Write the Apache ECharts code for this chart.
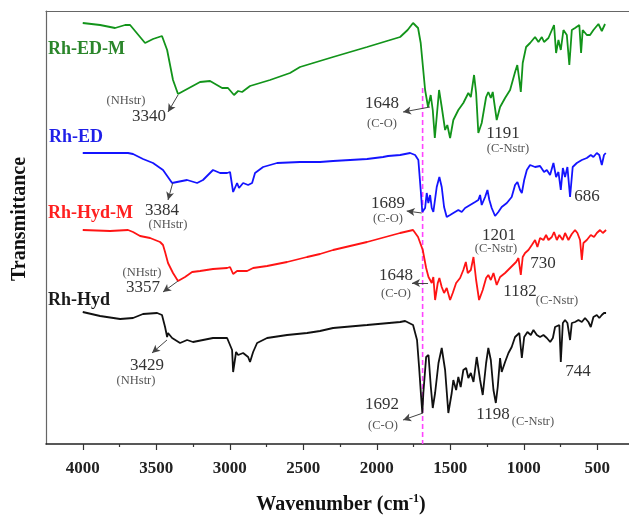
<!DOCTYPE html>
<html>
<head>
<meta charset="utf-8">
<script src="https://cdn.jsdelivr.net/npm/echarts@6/dist/echarts.min.js"></script>
<style>
  html, body { margin: 0; padding: 0; background: #fff; }
  #chart { width: 629px; height: 518px; }
</style>
</head>
<body>
<div id="chart"></div>
<script>
// FTIR spectra: [wavenumber (cm-1), transmittance (a.u., stacked)]
const rhEdM = [[4000,421],[3882,419],[3780,416],[3712,419],[3678,419],[3576,401],[3522,405],[3461,408],[3426,394],[3386,364],[3352,350],[3202,362],[3134,363],[3052,356],[3012,356],[2971,349],[2943,353],[2916,352],[2862,358],[2726,364],[2590,371],[2522,377],[2297,387],[2066,397],[1841,407],[1790,414],[1753,421],[1719,416],[1701,401],[1671,354],[1651,337],[1633,349],[1619,334],[1605,306],[1576,354],[1558,337],[1535,314],[1520,319],[1501,306],[1479,324],[1445,334],[1411,341],[1377,351],[1360,347],[1338,369],[1324,351],[1309,311],[1286,321],[1256,347],[1241,352],[1224,346],[1211,352],[1184,324],[1161,337],[1127,346],[1093,354],[1059,372],[1044,379],[1030,364],[1020,352],[1007,381],[984,397],[957,401],[923,407],[900,402],[877,407],[862,402],[832,406],[794,419],[780,391],[764,404],[748,394],[730,414],[707,409],[690,379],[673,414],[651,416],[639,414],[622,419],[610,391],[599,414],[571,409],[549,409],[526,414],[492,420],[469,413],[447,420]];

const rhEd = [[4000,291],[3692,291],[3658,290],[3590,285],[3522,281],[3454,274],[3392,261],[3359,262],[3290,264],[3222,261],[3182,264],[3114,274],[3066,271],[3018,271],[2998,272],[2977,252],[2950,261],[2937,256],[2909,261],[2875,259],[2848,261],[2828,271],[2773,277],[2678,281],[2522,282],[2386,282],[2297,283],[2066,285],[1957,287],[1923,288],[1841,289],[1773,291],[1739,289],[1717,284],[1701,254],[1690,232],[1671,236],[1660,251],[1649,241],[1637,249],[1626,236],[1615,232],[1592,257],[1574,267],[1558,257],[1542,237],[1524,227],[1501,229],[1479,231],[1445,234],[1422,232],[1399,236],[1365,239],[1331,242],[1309,244],[1297,249],[1286,239],[1263,247],[1247,254],[1234,244],[1218,236],[1195,228],[1173,232],[1150,237],[1115,241],[1082,247],[1059,259],[1043,262],[1025,254],[1013,251],[997,264],[979,274],[957,279],[923,277],[889,278],[862,272],[843,274],[821,269],[798,281],[780,267],[764,272],[748,254],[734,276],[719,267],[703,277],[685,247],[667,277],[639,281],[605,284],[571,286],[544,289],[526,287],[503,291],[486,289],[469,279],[454,289],[442,291]];

const rhHydM = [[4000,214],[3814,213],[3692,214],[3658,212],[3610,208],[3542,206],[3474,202],[3454,199],[3440,192],[3420,181],[3386,171],[3352,163],[3304,167],[3256,172],[3202,173],[3114,175],[3018,176],[2998,177],[2977,170],[2950,173],[2882,173],[2841,176],[2746,178],[2610,182],[2474,187],[2386,190],[2297,194],[2066,202],[1841,211],[1753,214],[1719,207],[1687,194],[1664,176],[1648,167],[1637,167],[1626,161],[1615,167],[1603,144],[1585,161],[1574,166],[1558,157],[1542,151],[1524,156],[1501,144],[1483,151],[1460,161],[1433,166],[1411,174],[1394,182],[1381,171],[1360,174],[1342,187],[1324,164],[1304,144],[1279,154],[1256,166],[1241,169],[1224,164],[1206,171],[1184,159],[1161,167],[1127,171],[1093,176],[1052,182],[1036,186],[1020,169],[1007,187],[991,191],[968,194],[945,199],[923,204],[907,197],[889,206],[866,204],[848,209],[832,204],[809,207],[794,212],[775,204],[758,209],[735,204],[719,211],[696,204],[673,210],[651,214],[635,211],[617,204],[605,184],[594,201],[571,204],[544,209],[522,207],[503,211],[481,214],[462,211],[440,214]];

const rhHyd = [[4000,132],[3882,128],[3746,125],[3658,126],[3590,130],[3494,131],[3461,129],[3440,117],[3426,107],[3420,111],[3392,106],[3338,101],[3290,104],[3250,102],[3182,104],[3114,106],[3018,106],[2984,94],[2977,72],[2957,92],[2943,89],[2909,91],[2875,87],[2862,82],[2841,92],[2814,101],[2746,106],[2610,109],[2474,111],[2386,113],[2297,116],[2066,119],[1841,122],[1807,123],[1753,119],[1726,104],[1712,77],[1698,47],[1690,31],[1683,51],[1664,87],[1648,89],[1632,57],[1619,36],[1603,51],[1580,81],[1558,96],[1535,74],[1513,31],[1490,51],[1479,64],[1460,54],[1445,67],[1429,57],[1411,74],[1392,76],[1377,66],[1360,71],[1342,62],[1320,87],[1297,64],[1279,49],[1256,81],[1241,96],[1224,84],[1206,54],[1190,41],[1177,57],[1161,86],[1150,72],[1127,82],[1104,91],[1082,97],[1059,107],[1030,111],[1013,86],[997,107],[975,112],[952,109],[934,114],[911,109],[889,107],[866,109],[843,106],[820,102],[802,106],[787,117],[758,119],[748,82],[734,121],[719,124],[703,121],[685,104],[673,121],[651,122],[628,124],[605,122],[583,126],[560,122],[544,117],[526,127],[503,129],[486,126],[469,129],[454,131],[440,131]];

// C=O reference wavenumber marked with a dashed guide
const guideWn = 1688;
const guideSpan = [356, 0];

// x-axis tick values
const majorTicks = [500, 1000, 1500, 2000, 2500, 3000, 3500, 4000];
const minorTicks = [750, 1250, 1750, 2250, 2750, 3250, 3750];

// pointer arrows: [from point on the curve, to the label]
const arrowsEdM = [[[3352,349],[3420,332]], [[1638,337],[1821,332]]];
const arrowsEd = [[[3388,261],[3420,244]], [[1694,231],[1796,233]]];
const arrowsHydM = [[[3352,163],[3454,152]], [[1651,161],[1760,161]]];
const arrowsHyd = [[[3427,104],[3529,91]], [[1685,31],[1821,24]]];

// peak annotations: text, kind (n = wavenumber, s = assignment)
const notes = [
  ['(NHstr)',126,101,'s'],['3340',149,117,'n'],['1648',382,104,'n'],['(C-O)',382,124,'s'],['1191',503,134,'n'],['(C-Nstr)',508,149,'s'],
  ['3384',162,211,'n'],['(NHstr)',168,225,'s'],['1689',388,204,'n'],['(C-O)',388,219,'s'],['686',587,197,'n'],['1201',499,236,'n'],['(C-Nstr)',496,249,'s'],
  ['(NHstr)',142,273,'s'],['3357',143,288,'n'],['1648',396,276,'n'],['(C-O)',396,294,'s'],['730',543,264,'n'],['1182',520,292,'n'],['(C-Nstr)',557,301,'s'],
  ['3429',147,366,'n'],['(NHstr)',136,381,'s'],['1692',382,405,'n'],['(C-O)',383,426,'s'],['1198',493,415,'n'],['(C-Nstr)',533,422,'s'],['744',578,372,'n']
];

// sample names drawn beside each trace
const sampleNames = [
  ['Rh-ED-M', 48, 49, '#2b862b'],
  ['Rh-ED', 49, 137, '#1f1fe8'],
  ['Rh-Hyd-M', 48, 213, '#ff2020'],
  ['Rh-Hyd', 48, 300, '#1a1a1a']
];

const FONT = '"Liberation Serif", "Times New Roman", serif';

function arrowMarks(list) {
  return {
    silent: true,
    symbol: ['none', 'arrow'],
    symbolSize: [6, 8],
    label: { show: false },
    emphasis: { disabled: true },
    lineStyle: { color: '#444', width: 1, type: 'solid' },
    data: list.map(a => [{ coord: a[0] }, { coord: a[1] }])
  };
}

function trace(name, data, color, arrows) {
  return {
    name, type: 'line', data,
    showSymbol: false, symbol: 'none',
    lineStyle: { color, width: 1.8 },
    emphasis: { disabled: true },
    animation: false,
    markLine: arrowMarks(arrows)
  };
}

const graphics = [];
notes.forEach(([t, x, y, k]) => {
  graphics.push({
    type: 'text', x, y, silent: true,
    style: {
      text: t, fill: k === 'n' ? '#333' : '#555',
      font: (k === 'n' ? '17px ' : '12.5px ') + FONT,
      textAlign: 'center', textVerticalAlign: 'middle'
    }
  });
});
sampleNames.forEach(([t, x, y, c]) => {
  graphics.push({
    type: 'text', x, y, silent: true,
    style: { text: t, fill: c, font: 'bold 18px ' + FONT, textAlign: 'left', textVerticalAlign: 'middle' }
  });
});
// axis titles
graphics.push({
  type: 'text', x: 341, y: 505, silent: true,
  style: {
    text: '{a|Wavenumber (cm}{s|-1}{a|)}',
    textAlign: 'center', textVerticalAlign: 'middle',
    rich: {
      a: { fontFamily: FONT, fontWeight: 'bold', fontSize: 20, fill: '#111', lineHeight: 24 },
      s: { fontFamily: FONT, fontWeight: 'bold', fontSize: 12, fill: '#111', lineHeight: 12, verticalAlign: 'top' }
    }
  }
});
graphics.push({
  type: 'text', x: 20, y: 219, rotation: Math.PI / 2, silent: true,
  style: {
    text: 'Transmittance', fill: '#111', font: 'bold 20px ' + FONT,
    textAlign: 'center', textVerticalAlign: 'middle'
  }
});

const chart = echarts.init(document.getElementById('chart'), null, { renderer: 'canvas' });
chart.setOption({
  animation: false,
  backgroundColor: '#fff',
  grid: {
    left: 46, right: -5, top: 11, bottom: 74,
    outerBoundsMode: 'none', containLabel: false, show: false
  },
  xAxis: [{
    type: 'value', inverse: true, min: 250, max: 4250,
    axisLine: { show: true, lineStyle: { color: '#222', width: 1.5 } },
    axisTick: { show: true, customValues: majorTicks, length: 6, lineStyle: { color: '#333', width: 1.2 } },
    axisLabel: {
      show: true, customValues: majorTicks, margin: 16,
      formatter: v => String(v),
      fontFamily: FONT, fontWeight: 'bold', fontSize: 17, color: '#222'
    },
    splitLine: { show: false }
  }, {
    type: 'value', inverse: true, min: 250, max: 4250, position: 'bottom',
    axisLine: { show: false },
    axisTick: { show: true, customValues: minorTicks, length: 3, lineStyle: { color: '#333', width: 1.2 } },
    axisLabel: { show: false },
    splitLine: { show: false }
  }, {
    type: 'value', inverse: true, min: 250, max: 4250, position: 'top',
    axisLine: { show: true, lineStyle: { color: '#666', width: 1.2 } },
    axisTick: { show: false }, axisLabel: { show: false },
    splitLine: { show: false }
  }],
  yAxis: {
    type: 'value', min: 0, max: 433,
    axisLine: { show: true, lineStyle: { color: '#666', width: 1.2 } },
    axisTick: { show: false }, axisLabel: { show: false },
    splitLine: { show: false }
  },
  series: [
    {
      name: 'guide', type: 'line',
      data: guideSpan.map(v => [guideWn, v]),
      showSymbol: false, symbol: 'none', silent: true, z: 1,
      lineStyle: { color: '#ff44ff', width: 1.6, type: [5, 3] }
    },
    trace('Rh-ED-M', rhEdM, '#12941a', arrowsEdM),
    trace('Rh-ED', rhEd, '#1414ff', arrowsEd),
    trace('Rh-Hyd-M', rhHydM, '#ff1414', arrowsHydM),
    trace('Rh-Hyd', rhHyd, '#111111', arrowsHyd)
  ],
  graphic: graphics
});
</script>
</body>
</html>
